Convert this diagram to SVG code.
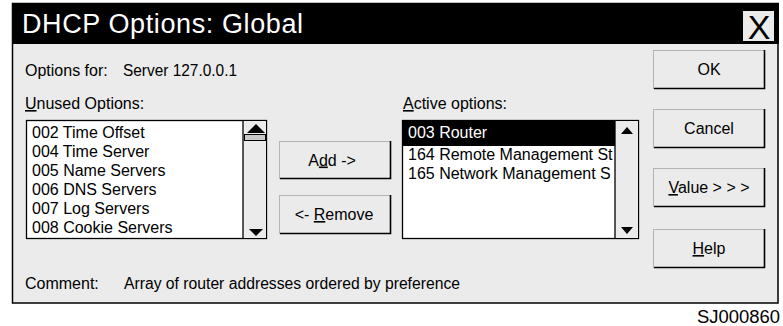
<svg xmlns="http://www.w3.org/2000/svg" width="783" height="326" viewBox="0 0 783 326">
<style>
text{font-family:"Liberation Sans",Arial,Helvetica,sans-serif;font-size:16px;fill:#000}
.ttl{font-size:27px;fill:#fff}
.btn{fill:#ebebeb;stroke:#b4b4b4;stroke-width:1}
.sh{fill:none;stroke:#000;stroke-width:1.6}
.mid{text-anchor:middle}
.u{text-decoration:underline}
.wt{fill:#fff}
</style>
<defs>
<clipPath id="clipA"><rect x="402" y="120" width="213" height="119"/></clipPath>
</defs>
<rect x="0" y="0" width="783" height="326" fill="#fff"/>
<g id="dialog">
<rect x="12.5" y="3.5" width="765.5" height="299.5" fill="#ebebeb" stroke="#000" stroke-width="1.5"/>
<rect x="12" y="3" width="767" height="41" fill="#000"/>
<text class="ttl" x="22" y="33" textLength="281" lengthAdjust="spacing">DHCP Options: Global</text>
<rect x="743" y="11" width="31" height="30" fill="#ebebeb"/>
<text x="759" y="38.5" class="mid" style="font-size:34px">X</text>
</g>
<g id="labels">
<text x="25" y="76">Options for:</text>
<text x="123" y="76" textLength="114" lengthAdjust="spacingAndGlyphs">Server 127.0.0.1</text>
<text x="25" y="109"><tspan class="u">U</tspan>nused Options:</text>
<text x="403" y="109"><tspan class="u">A</tspan>ctive options:</text>
<text x="25" y="289">Comment:</text>
<text x="124" y="289" textLength="336" lengthAdjust="spacingAndGlyphs">Array of router addresses ordered by preference</text>
<text x="780" y="323" text-anchor="end" style="font-size:18px" textLength="83" lengthAdjust="spacingAndGlyphs">SJ000860</text>
</g>
<g id="unused-list">
<rect x="26.5" y="120.5" width="240" height="118" fill="#fff" stroke="#000" stroke-width="1.3"/>
<rect x="243" y="121" width="23" height="117" fill="#ebebeb"/>
<line x1="243" y1="120.5" x2="243" y2="238.5" stroke="#000" stroke-width="1.3"/>
<polygon points="247,133 265,133 256,124" fill="#000"/>
<rect x="244.5" y="134.5" width="21" height="6" fill="#c8c8c8" stroke="#000" stroke-width="1"/>
<polygon points="249,229 263,229 256,236" fill="#000"/>
<text x="32" y="138">002 Time Offset</text>
<text x="32" y="157">004 Time Server</text>
<text x="32" y="176">005 Name Servers</text>
<text x="32" y="195">006 DNS Servers</text>
<text x="32" y="214">007 Log Servers</text>
<text x="32" y="233">008 Cookie Servers</text>
</g>
<g id="active-list">
<rect x="402.5" y="120.5" width="236" height="118" fill="#fff" stroke="#000" stroke-width="1.3"/>
<rect x="615" y="121" width="23" height="117" fill="#ebebeb"/>
<line x1="615" y1="120.5" x2="615" y2="238.5" stroke="#000" stroke-width="1.3"/>
<rect x="402" y="120" width="213" height="26" fill="#000"/>
<polygon points="621,134 633,134 627,127" fill="#000"/>
<polygon points="621,227 633,227 627,234" fill="#000"/>
<g clip-path="url(#clipA)">
<text x="408" y="138" class="wt">003 Router</text>
<text x="408" y="160">164 Remote Management St</text>
<text x="408" y="179">165 Network Management S</text>
</g>
</g>
<g id="btn-add">
<rect class="btn" x="279.5" y="141.5" width="111" height="37"/>
<path class="sh" d="M280,178.5 H390.5 V141"/>
<text x="332" y="165.5" class="mid">A<tspan class="u">d</tspan>d -&gt;</text>
</g>
<g id="btn-remove">
<rect class="btn" x="279.5" y="195.5" width="111" height="38"/>
<path class="sh" d="M280,233.5 H390.5 V195"/>
<text x="334" y="220" class="mid">&lt;- <tspan class="u">R</tspan>emove</text>
</g>
<g id="btn-ok">
<rect class="btn" x="653.5" y="50.5" width="111" height="38"/>
<path class="sh" d="M654,88.5 H764.5 V50"/>
<text x="709" y="75" class="mid">OK</text>
</g>
<g id="btn-cancel">
<rect class="btn" x="653.5" y="109.5" width="111" height="38"/>
<path class="sh" d="M654,147.5 H764.5 V109"/>
<text x="709" y="133.5" class="mid">Cancel</text>
</g>
<g id="btn-value">
<rect class="btn" x="653.5" y="168.5" width="111" height="38"/>
<path class="sh" d="M654,206.5 H764.5 V168"/>
<text x="709" y="193" class="mid"><tspan class="u">V</tspan>alue &gt; &gt; &gt;</text>
</g>
<g id="btn-help">
<rect class="btn" x="653.5" y="229.5" width="111" height="38"/>
<path class="sh" d="M654,267.5 H764.5 V229"/>
<text x="709" y="254" class="mid"><tspan class="u">H</tspan>elp</text>
</g>
</svg>
